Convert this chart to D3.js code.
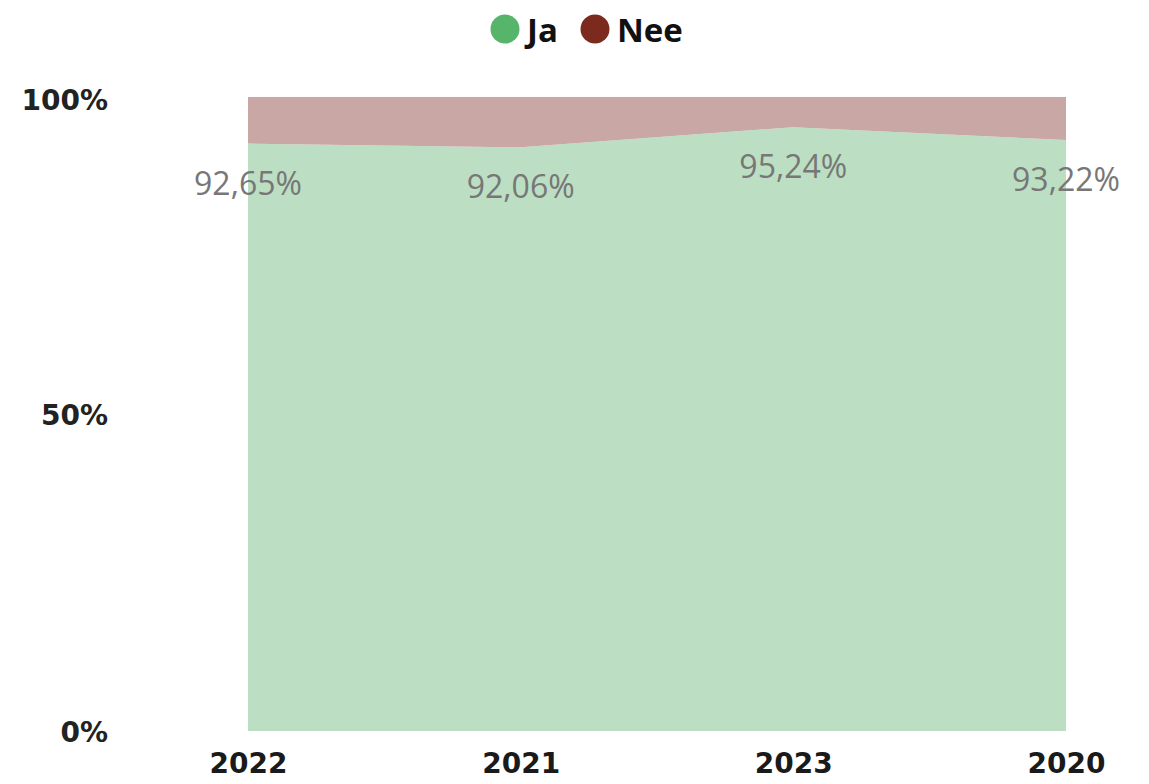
<!DOCTYPE html>
<html><head><meta charset="utf-8">
<script src="https://cdn.jsdelivr.net/npm/d3@7"></script>
<style>body{margin:0;background:#fff}svg{display:block}</style>
</head><body>
<svg id="c" width="1149" height="784"></svg>
<script>
const categories = ["2022", "2021", "2023", "2020"];
const jaValues = [92.65, 92.06, 95.24, 93.22];
const neeValues = [7.35, 7.94, 4.76, 6.78];
const yTicks = [0, 50, 100];
const seriesNames = ["Ja", "Nee"];

(function () {
const svg = d3.select("#c");
const mLeft = 248, mRight = 1066, mTop = 97, mBottom = 731;
const x = d3.scalePoint().domain(categories).range([mLeft, mRight]);
const y = d3.scaleLinear().domain([0, 100]).range([mBottom, mTop]);

const rows = categories.map((c, i) => ({cat: c, Ja: jaValues[i], Nee: neeValues[i]}));
const stack = d3.stack().keys(seriesNames).offset(d3.stackOffsetExpand);
const series = stack(rows);
const fills = {Ja: "#bcdfc3", Nee: "#c8a7a4"};
const area = d3.area().x(d => x(d.data.cat)).y0(d => y(d[0]*100)).y1(d => y(d[1]*100));
svg.append("g").selectAll("path").data(series).join("path")
  .attr("d", area).attr("fill", d => fills[d.key]);

// y axis
const yAxis = d3.axisLeft(y).tickValues(yTicks).tickFormat(d => d + "%").tickSize(0).tickPadding(0);
const ya = svg.append("g").attr("transform", "translate(108,0)").call(yAxis);
ya.select(".domain").remove();
ya.selectAll("text").attr("font-family", "DejaVu Sans, sans-serif").attr("font-size", 28)
  .attr("font-weight", "bold").attr("fill", "#222").attr("dy", "0.36em");
ya.selectAll(".tick").filter(d => d === 100).attr("transform", `translate(0,${y(100) + 3})`);

// x axis
const xAxis = d3.axisBottom(x).tickSize(0).tickPadding(0);
const xa = svg.append("g").attr("transform", "translate(0,0)").call(xAxis);
xa.select(".domain").remove();
xa.selectAll("text").attr("font-family", "DejaVu Sans, sans-serif").attr("font-size", 28)
  .attr("font-weight", "bold").attr("fill", "#1a1a1a").attr("y", 773).attr("dy", null);

// data labels
svg.append("g").selectAll("text").data(rows).join("text")
  .attr("x", d => x(d.cat)).attr("y", d => y(d.Ja) + 51)
  .attr("text-anchor", "middle")
  .attr("font-family", "Open Sans, sans-serif").attr("font-size", 32)
  .attr("fill", "#777")
  .text(d => d3.format(".2f")(d.Ja).replace(".", ",") + "%");

// legend
const legendColors = {Ja: "#57b46b", Nee: "#7d2a1e"};
const lg = svg.append("g");
const lx = [505, 595];
seriesNames.forEach((n, i) => {
  lg.append("circle").attr("cx", lx[i]).attr("cy", 29).attr("r", 14.5).attr("fill", legendColors[n]);
  lg.append("text").attr("x", lx[i] + 22).attr("y", 42)
    .attr("font-family", "Open Sans, sans-serif").attr("font-size", 33).attr("font-weight", 700)
    .attr("fill", "#111").text(n);
});
})();
</script>
</body></html>
